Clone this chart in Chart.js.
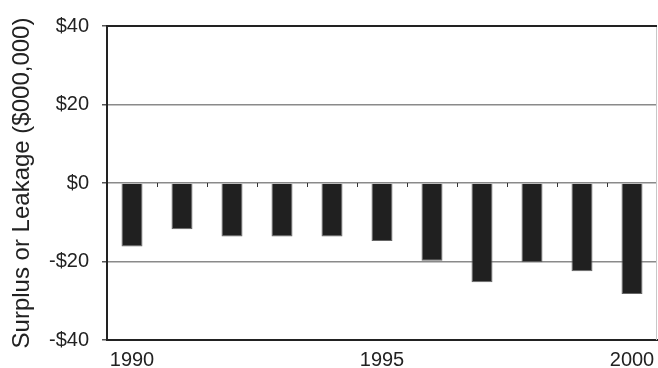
<!DOCTYPE html>
<html>
<head>
<meta charset="utf-8">
<script src="https://cdn.jsdelivr.net/npm/chart.js@4/dist/chart.umd.min.js"></script>
<style>
  html, body { margin: 0; padding: 0; background: #fff; }
  #wrap { width: 658px; height: 368px; }
</style>
</head>
<body>
<div id="wrap"><canvas id="c" width="658" height="368"></canvas></div>
<script>
const years = ['1990','1991','1992','1993','1994','1995','1996','1997','1998','1999','2000'];
const surplus = [-16.2, -11.8, -13.6, -13.6, -13.6, -14.8, -19.8, -25.3, -20.2, -22.5, -28.3];
const shownYears = ['1990','1995','2000'];
const yTicks = [-40, -20, 0, 20, 40];
const yTitle = 'Surplus or Leakage ($000,000)';

const fontFam = '"Liberation Sans", Arial, Helvetica, sans-serif';

const extras = {
  id: 'extras',
  afterDatasetsDraw(chart) {
    const ctx = chart.ctx;
    const x = chart.scales.x, y = chart.scales.y;
    const ca = chart.chartArea;
    ctx.save();
    // small tick marks on zero line between categories
    const y0 = y.getPixelForValue(0);
    ctx.strokeStyle = '#333';
    ctx.lineWidth = 1;
    for (let i = 1; i < years.length; i++) {
      const px = Math.round((x.getPixelForValue(i - 1) + x.getPixelForValue(i)) / 2) + 0.5;
      ctx.beginPath();
      ctx.moveTo(px, y0);
      ctx.lineTo(px, y0 + 4);
      ctx.stroke();
    }
    // right light frame line
    ctx.strokeStyle = '#c8c8c8';
    ctx.beginPath();
    ctx.moveTo(ca.right - 0.5, ca.top);
    ctx.lineTo(ca.right - 0.5, ca.bottom);
    ctx.stroke();
    // top dark line
    ctx.strokeStyle = '#222';
    ctx.lineWidth = 2;
    ctx.beginPath();
    ctx.moveTo(ca.left, y.getPixelForValue(40));
    ctx.lineTo(ca.right, y.getPixelForValue(40));
    ctx.stroke();
    ctx.restore();
  }
};

new Chart(document.getElementById('c'), {
  type: 'bar',
  data: {
    labels: years,
    datasets: [{
      data: surplus,
      backgroundColor: '#202020',
      borderColor: '#666',
      borderWidth: 1,
      barPercentage: 0.84,
      categoryPercentage: 0.5
    }]
  },
  plugins: [extras],
  options: {
    responsive: false,
    animation: false,
    devicePixelRatio: 1,
    layout: { padding: { top: 26, right: 1, left: 0, bottom: 0 } },
    plugins: { legend: { display: false }, tooltip: { enabled: false } },
    scales: {
      x: {
        grid: { display: false, drawTicks: false },
        border: { display: true, color: '#222', width: 2 },
        ticks: {
          autoSkip: false,
          maxRotation: 0,
          padding: 8,
          color: '#222',
          font: { family: fontFam, size: 20 },
          callback: function(v, i) { const l = years[i]; return shownYears.includes(l) ? l : ''; }
        },
        afterFit(s) { s.height = 28; s.paddingLeft = 0; s.paddingRight = 0; }
      },
      y: {
        min: -40, max: 40,
        afterBuildTicks(s) { s.ticks = yTicks.map(v => ({ value: v })); },
        grid: {
          color: ctx => (ctx.tick && (ctx.tick.value === 40 || ctx.tick.value === -40)) ? '#222' : '#8a8a8a',
          lineWidth: 1.5,
          tickColor: '#555',
          tickLength: 5,
          drawTicks: true
        },
        border: { display: true, color: '#222', width: 2 },
        ticks: {
          padding: 13,
          color: '#222',
          font: { family: fontFam, size: 20 },
          callback: v => (v < 0 ? '-$' + Math.abs(v) : '$' + v)
        },
        title: {
          display: true,
          text: yTitle,
          color: '#222',
          font: { family: fontFam, size: 24 },
          padding: { top: 8, bottom: 0 }
        },
        afterFit(s) { s.width = 107; s.paddingTop = 0; s.paddingBottom = 0; }
      }
    }
  }
});
</script>
</body>
</html>
